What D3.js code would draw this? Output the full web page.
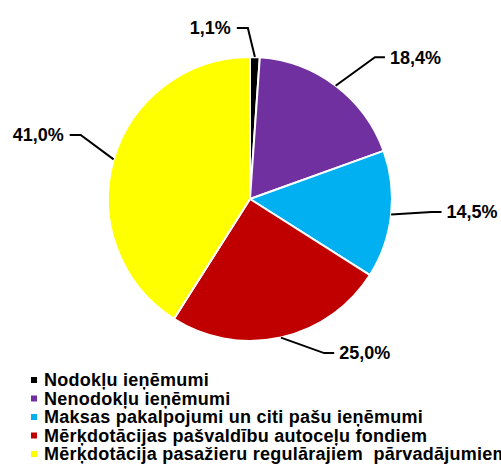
<!DOCTYPE html>
<html>
<head>
<meta charset="utf-8">
<script src="https://cdn.jsdelivr.net/npm/d3@7"></script>
<style>
  body { margin: 0; background: #fff; overflow: hidden; }
  svg { display: block; font-family: "Liberation Sans", Arial, sans-serif; font-weight: bold; }
</style>
</head>
<body>
<svg width="501" height="464"></svg>
<script>
// slice data, clockwise from 12 o'clock
var categories = [
  "Nodokļu ieņēmumi",
  "Nenodokļu ieņēmumi",
  "Maksas pakalpojumi un citi pašu ieņēmumi",
  "Mērķdotācijas pašvaldību autoceļu fondiem",
  "Mērķdotācija pasažieru regulārajiem  pārvadājumiem"
];
var values = [1.1, 18.4, 14.5, 25.0, 41.0];
var valueLabels = ["1,1%", "18,4%", "14,5%", "25,0%", "41,0%"];
var colors = ["#000000", "#7030A0", "#00B0F0", "#C00000", "#FFFF00"];

// where the label elbows sit: [angle offset from slice middle (deg), radius]
var labelPolar = [[-2.7, 171], [4.3, 189], [-2.2, 182], [-13.1, 171], [4.5, 181]];

var svg = d3.select("svg"),
    cx = 250, cy = 199, r = 142;

var pie = d3.pie().sort(null).value(function(d) { return d; });
var arcs = pie(values);

var arc = d3.arc().innerRadius(0).outerRadius(r);

var g = svg.append("g").attr("transform", "translate(" + cx + "," + cy + ")");

g.selectAll("path.slice")
  .data(arcs)
  .enter().append("path")
    .attr("class", "slice")
    .attr("d", arc)
    .attr("fill", function(d, i) { return colors[i]; })
    .attr("stroke", "#fff")
    .attr("stroke-width", 2)
    .attr("stroke-linejoin", "round");

// labels with leader lines
var lab = g.selectAll("g.lab")
  .data(arcs)
  .enter().append("g")
    .attr("class", "lab");

lab.each(function(d, i) {
  var mid = (d.startAngle + d.endAngle) / 2;
  var start = d3.pointRadial(mid, r);
  var a = mid + labelPolar[i][0] * Math.PI / 180;
  var elbow = d3.pointRadial(a, labelPolar[i][1]);
  var left = Math.sin(a) < 0;
  var end = [elbow[0] + (left ? -11 : 10), elbow[1]];
  var sel = d3.select(this);
  sel.append("path")
    .attr("d", d3.line()([start, elbow, end]))
    .attr("fill", "none")
    .attr("stroke", "#000")
    .attr("stroke-width", 2);
  sel.append("text")
    .attr("x", end[0] + (left ? -6 : 5))
    .attr("y", end[1])
    .attr("dy", "0.35em")
    .attr("text-anchor", left ? "end" : "start")
    .attr("font-size", 18)
    .attr("fill", "#000")
    .text(valueLabels[i]);
});

// legend
var legend = svg.append("g").attr("transform", "translate(31,380)");
var row = legend.selectAll("g")
  .data(categories)
  .enter().append("g")
    .attr("transform", function(d, i) { return "translate(0," + (i * 18.5) + ")"; });

row.append("rect")
  .attr("x", 0).attr("y", -3)
  .attr("width", 6).attr("height", 6)
  .attr("fill", function(d, i) { return colors[i]; });

row.append("text")
  .attr("x", 13)
  .attr("y", 0)
  .attr("dy", "0.35em")
  .attr("font-size", 18)
  .attr("letter-spacing", 0.25)
  .attr("fill", "#000")
  .style("white-space", "pre")
  .text(function(d) { return d; });
</script>
</body>
</html>
